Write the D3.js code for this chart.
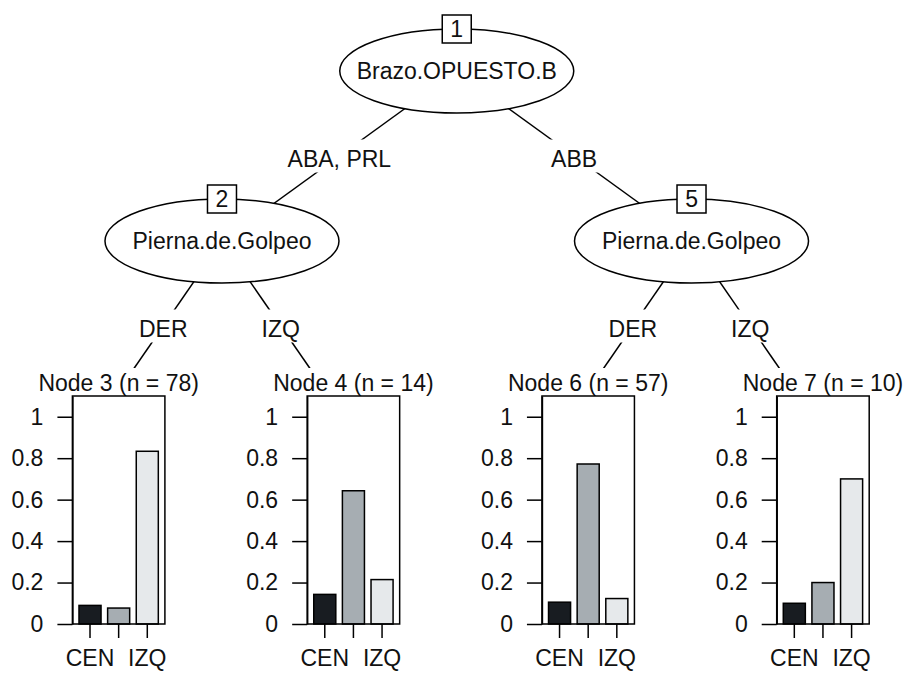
<!DOCTYPE html>
<html>
<head>
<meta charset="utf-8">
<script src="https://cdn.jsdelivr.net/npm/d3@7"></script>
<style>
  body { margin: 0; background: #fff; }
  svg text { font-family: "Liberation Sans", Arial, sans-serif; fill: #111; }
</style>
</head>
<body>
<svg id="chart" width="908" height="673"></svg>
<script>
// ---- data ----------------------------------------------------------------
const classes = ["CEN", "DER", "IZQ"];
const classColors = ["#181c21", "#a6adb2", "#e6e9eb"];
const classTickLabels = ["CEN", "", "IZQ"];

// tree structure: node id, its parent, and the split label on the incoming edge
const nodeIds   = [1, 2, 5, 3, 4, 6, 7];
const parentIds = [null, 1, 1, 2, 2, 5, 5];
const edgeLabels = ["", "ABA, PRL", "ABB", "DER", "IZQ", "DER", "IZQ"];
const splitNodeIds = [1, 2, 5];
const splitVars = ["Brazo.OPUESTO.B", "Pierna.de.Golpeo", "Pierna.de.Golpeo"];

// terminal nodes: class counts (CEN, DER, IZQ)
const leafIds = [3, 4, 6, 7];
const leafCounts = [[7, 6, 65], [2, 9, 3], [6, 44, 7], [1, 2, 7]];

const yTicks = [0, 0.2, 0.4, 0.6, 0.8, 1];
const yTickLabels = ["0", "0.2", "0.4", "0.6", "0.8", "1"];

// ---- layout ----------------------------------------------------------------
const FONT = 23;
const svg = d3.select("#chart");

const rows = nodeIds.map((id, i) => ({ id: String(id), parent: parentIds[i] == null ? null : String(parentIds[i]), edge: edgeLabels[i] }));
const root = d3.stratify().id(d => d.id).parentId(d => d.parent)(rows);

const xLeaf = d3.scalePoint().domain(leafIds).range([104.6, 808.9]);
const yDepth = d3.scaleLinear().domain([0, 2]).range([71, 411]);

root.eachAfter(n => {
  n.x = n.children ? d3.mean(n.children, c => c.x) : xLeaf(+n.id);
  n.y = yDepth(n.depth);
});

const RX = 117, RY = 42;

// edges
svg.append("g")
  .selectAll("line")
  .data(root.links())
  .join("line")
  .attr("x1", d => d.source.x).attr("y1", d => d.source.y)
  .attr("x2", d => d.target.x).attr("y2", d => d.target.y)
  .attr("stroke", "#000").attr("stroke-width", 1.5);

// edge labels on white background
const edgeG = svg.append("g")
  .selectAll("g")
  .data(root.links())
  .join("g")
  .attr("transform", d => `translate(${(d.source.x + d.target.x) / 2},${(d.source.y + d.target.y) / 2})`);
edgeG.append("rect").attr("fill", "#fff");
edgeG.append("text")
  .attr("text-anchor", "middle")
  .attr("y", 10.5)
  .attr("font-size", FONT)
  .text(d => d.target.data.edge);
edgeG.each(function () {
  const g = d3.select(this);
  const w = g.select("text").node().getComputedTextLength();
  g.select("rect").attr("x", -w / 2 - 4).attr("width", w + 8).attr("y", -16.5).attr("height", 33);
});

// inner (split) nodes
const inner = root.descendants().filter(n => n.children);
const innerG = svg.append("g")
  .selectAll("g")
  .data(inner)
  .join("g")
  .attr("transform", d => `translate(${d.x},${d.y})`);
innerG.append("ellipse")
  .attr("rx", RX).attr("ry", RY)
  .attr("fill", "#fff").attr("stroke", "#000").attr("stroke-width", 1.5);
innerG.append("text")
  .attr("text-anchor", "middle")
  .attr("y", 8)
  .attr("font-size", FONT)
  .text(d => splitVars[splitNodeIds.indexOf(+d.id)]);
innerG.append("rect")
  .attr("x", -14.5).attr("y", -RY - 14).attr("width", 29).attr("height", 28)
  .attr("fill", "#fff").attr("stroke", "#000").attr("stroke-width", 1.5);
innerG.append("text")
  .attr("text-anchor", "middle")
  .attr("y", -RY + 8)
  .attr("font-size", FONT)
  .text(d => d.id);

// terminal nodes: bar plots of class proportions
const panelTop = 368, plotTop = 396, plotBottom = 624;
const plotLeft = -32.2, plotRight = 60.3;
const yScale = d3.scaleLinear().domain([0, 1.1]).range([plotBottom, plotTop]);

const leaves = root.leaves();
leaves.forEach(leaf => {
  const idx = leafIds.indexOf(+leaf.id);
  const counts = leafCounts[idx];
  const n = d3.sum(counts);
  const props = counts.map(c => c / n);
  const g = svg.append("g").attr("transform", `translate(${leaf.x},0)`);

  g.append("rect")
    .attr("x", -116).attr("y", panelTop).attr("width", 232).attr("height", 673 - panelTop)
    .attr("fill", "#fff");

  g.append("text")
    .attr("text-anchor", "middle")
    .attr("x", (plotLeft + plotRight) / 2)
    .attr("y", 391)
    .attr("font-size", FONT)
    .text(`Node ${leaf.id} (n = ${n})`);

  const xBand = d3.scaleBand().domain(classes).range([plotLeft, plotRight]).padding(0.23);

  g.append("g")
    .selectAll("rect")
    .data(classes.map((c, i) => ({ c, p: props[i], color: classColors[i] })))
    .join("rect")
    .attr("x", d => xBand(d.c))
    .attr("width", xBand.bandwidth())
    .attr("y", d => yScale(d.p))
    .attr("height", d => plotBottom - yScale(d.p))
    .attr("fill", d => d.color)
    .attr("stroke", "#000").attr("stroke-width", 1.5);

  g.append("rect")
    .attr("x", plotLeft).attr("y", plotTop)
    .attr("width", plotRight - plotLeft).attr("height", plotBottom - plotTop)
    .attr("fill", "none").attr("stroke", "#000").attr("stroke-width", 1.5);

  const yAxis = g.append("g")
    .attr("transform", `translate(${plotLeft},0)`)
    .call(d3.axisLeft(yScale).tickValues(yTicks)
      .tickFormat((d, i) => yTickLabels[i]).tickSize(15).tickSizeOuter(0).tickPadding(14));
  const xAxis = g.append("g")
    .attr("transform", `translate(0,${plotBottom})`)
    .call(d3.axisBottom(xBand).tickFormat((d, i) => classTickLabels[i])
      .tickSize(14).tickSizeOuter(0).tickPadding(12));
  xAxis.select(".domain").remove();

  [yAxis, xAxis].forEach(ax => {
    ax.attr("font-size", FONT).attr("font-family", null);
    ax.selectAll("line, path").attr("stroke", "#000").attr("stroke-width", 1.5);
    ax.selectAll("text").attr("fill", "#111");
  });
});
</script>
</body>
</html>
